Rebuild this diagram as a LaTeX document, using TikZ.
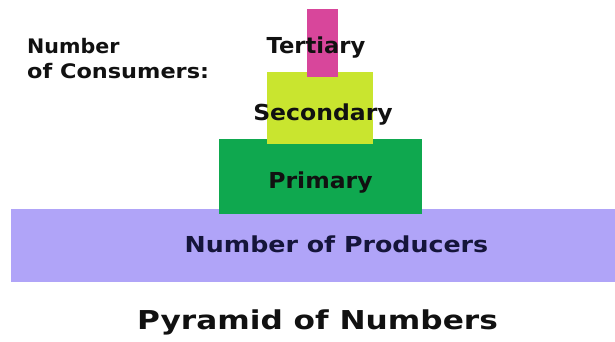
\documentclass[tikz,border=0pt]{standalone}
\usepackage{fontspec}
\setmainfont{DejaVu Sans}
\definecolor{tertc}{HTML}{D8469B}
\definecolor{secc}{HTML}{C9E52F}
\definecolor{primc}{HTML}{0FA84F}
\definecolor{prodc}{HTML}{B0A4F8}
\definecolor{txtc}{HTML}{111111}
\definecolor{prodtxt}{HTML}{15153A}
\tikzset{
  lbl/.style={inner sep=0pt, anchor=base, text=txtc, font=\fontsize{22}{22}\selectfont\bfseries},
  band/.style={draw=none, inner sep=0pt}
}
\begin{document}
\begin{tikzpicture}[x=1pt,y=-1pt]
\useasboundingbox[fill=white] (0,0) rectangle (615,341);
% bands, bottom-up
\fill[prodc] (11,209) rectangle (615,282);
\fill[primc] (219,139) rectangle (422,214);
\fill[secc] (267,72) rectangle (373,144);
\fill[tertc] (307,9) rectangle (338,77);
% labels
\node[lbl] (tert) at (316,53) {\scalebox{1.03}[1]{Tertiary}};
\node[lbl] (sec) at (323,120) {\scalebox{1.07}[1]{Secondary}};
\node[lbl] (prim) at (320.5,188) {\scalebox{1.07}[1]{Primary}};
\node[lbl, text=prodtxt] (prod) at (336.5,252) {\scalebox{1.15}[1]{Number of Producers}};
\node[inner sep=0pt, anchor=base west, text=txtc, font=\fontsize{20}{20}\selectfont\bfseries] (cons1) at (27,53) {\scalebox{1.03}[1]{Number}};
\node[inner sep=0pt, anchor=base west, text=txtc, font=\fontsize{20}{20}\selectfont\bfseries] (cons2) at (27,78) {\scalebox{1.12}[1]{of Consumers:}};
\node[inner sep=0pt, anchor=base, text=txtc, font=\fontsize{26}{26}\selectfont\bfseries] (title) at (317.5,329) {\scalebox{1.2}[1]{Pyramid of Numbers}};
\end{tikzpicture}
\end{document}
